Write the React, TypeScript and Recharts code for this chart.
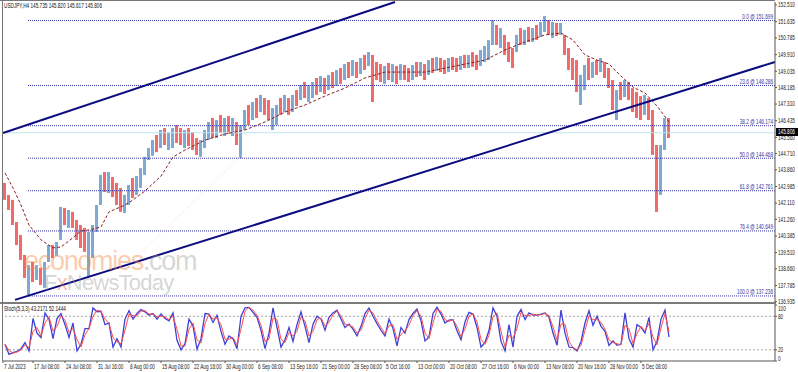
import React from 'react';
import { ComposedChart, Bar, Line, XAxis, YAxis, ReferenceLine, Cell } from 'recharts';

// USDJPY H4, one point per 4 bars (16h)
const highs = [143.17,142.54,142.28,141.12,140.44,139.39,138.86,139.02,138.86,138.71,
  139.02,139.91,139.91,140.07,141.91,141.86,141.75,141.65,141.23,140.96,
  140.81,140.60,140.96,142.01,143.59,143.74,143.74,143.48,143.17,142.91,
  142.54,143.06,143.43,143.53,143.95,144.54,145.00,145.42,145.69,145.95,
  146.05,145.84,146.05,146.21,146.05,145.95,146.05,145.84,145.53,145.42,
  145.95,146.37,146.58,146.47,146.74,146.58,146.68,146.58,146.37,146.21,
  147.00,147.26,147.42,147.63,147.79,147.63,147.52,147.10,147.26,147.63,
  147.79,147.63,147.79,148.05,148.31,148.47,148.31,148.47,148.68,148.78,
  148.68,148.84,148.99,149.10,149.20,149.41,149.52,149.62,149.52,149.73,
  149.89,150.04,149.89,149.52,149.41,149.31,149.47,149.41,149.31,149.41,
  149.36,149.20,149.36,149.52,149.52,149.41,149.62,149.73,149.78,149.73,
  149.62,149.73,149.78,149.73,149.83,149.89,149.89,150.04,149.89,150.15,
  150.36,150.67,151.72,151.46,151.30,150.94,150.57,150.25,150.94,151.30,
  151.20,151.36,151.30,151.46,151.62,151.93,151.72,151.62,151.57,151.57,
  150.94,150.25,149.73,149.62,148.84,149.36,149.73,149.52,149.62,149.73,
  149.52,149.20,148.57,148.05,148.47,148.57,148.47,148.15,147.94,147.73,
  147.79,147.63,147.00,145.16,145.16,146.58,146.58];

const lows = [142.28,141.75,140.96,139.91,139.13,138.18,137.24,137.97,138.08,137.81,
  137.66,139.02,139.23,139.34,140.18,140.96,140.81,140.81,140.18,139.76,
  139.55,138.24,139.23,140.60,142.01,142.70,142.64,142.43,142.01,141.65,
  141.59,142.01,142.38,142.54,142.91,143.59,144.37,144.59,144.79,145.00,
  145.16,144.90,145.00,145.27,145.16,145.00,145.11,144.90,144.64,144.54,
  145.00,145.42,145.53,145.53,145.79,145.63,145.74,145.63,145.16,144.48,
  145.95,146.21,146.47,146.58,146.89,146.74,146.47,145.95,146.21,146.74,
  146.89,146.74,146.89,147.21,147.52,147.63,147.42,147.63,147.79,147.94,
  147.84,148.05,148.15,148.26,148.36,148.57,148.68,148.78,148.68,148.89,
  149.10,149.31,147.42,148.57,148.47,148.36,148.57,148.47,148.36,148.57,
  148.57,148.47,148.57,148.73,148.78,148.57,148.84,148.94,149.05,148.99,
  148.89,148.99,149.10,148.99,149.10,149.20,149.20,149.26,149.10,149.31,
  149.52,149.62,150.41,150.41,150.25,149.89,149.52,149.20,150.04,150.41,
  150.41,150.57,150.57,150.67,150.83,151.09,150.94,150.78,150.88,150.94,
  149.89,149.10,148.57,147.94,147.26,148.05,148.57,148.68,148.84,148.99,
  148.68,148.15,147.00,146.47,147.52,147.68,147.52,146.89,146.58,146.47,
  146.74,146.47,144.64,141.65,142.54,144.90,145.53];

const closes = [142.4,141.9,141.2,140.0,139.3,138.4,138.5,138.3,138.6,138.0,
  138.9,139.7,139.4,140.0,141.5,141.2,141.5,141.0,140.4,140.1,
  139.8,140.2,140.8,141.8,143.3,143.0,143.4,142.7,142.3,141.9,
  142.3,142.8,142.7,143.3,143.8,144.4,144.8,145.3,145.1,145.8,
  145.4,145.7,145.9,145.6,145.5,145.8,145.3,145.0,144.9,145.3,
  145.8,146.2,145.9,146.3,146.1,146.5,146.0,146.2,145.5,146.0,
  146.9,146.5,147.2,147.0,147.5,147.0,146.6,146.8,147.1,146.9,
  147.6,147.2,147.7,147.6,148.2,147.8,148.1,148.4,148.0,148.6,
  148.2,148.7,148.4,149.0,148.7,149.3,149.0,149.4,149.0,149.6,
  149.3,149.8,149.3,149.0,148.8,149.2,148.8,149.2,148.7,149.2,
  148.9,148.8,149.2,149.0,149.3,148.8,149.4,149.2,149.6,149.3,
  149.1,149.6,149.4,149.2,149.7,149.5,149.8,149.5,149.3,149.9,
  150.2,150.5,151.2,150.7,150.9,150.2,149.9,149.5,150.8,150.6,
  151.0,150.8,151.2,151.0,151.4,151.6,151.2,151.5,151.1,151.4,
  150.1,149.4,148.9,148.1,148.8,149.2,149.0,149.4,149.1,149.5,
  148.9,148.5,147.3,147.9,147.8,148.3,147.9,147.2,147.0,146.9,
  147.4,146.8,145.0,142.0,144.6,146.2,145.806];
const firstOpen = 143.0;

// dashed moving average, read at a few points
const maIdx = [0,2,4,6,9,12,14,16,19,21,24,26,30,32,35,39,42,45,50,55,60,65,70,75,80,85,90,95,100,105,110,115,120,125,130,135,139,142,145,148,151,154,157,160,163,166];
const maVal = [143.69,142.91,142.01,140.96,140.18,139.76,139.81,140.13,140.65,140.70,140.86,141.65,142.01,142.28,142.75,143.53,144.53,144.90,145.42,145.74,145.95,146.37,146.89,147.26,147.73,148.15,148.68,148.99,148.99,148.99,149.20,149.41,149.62,150.15,150.57,150.94,151.04,150.67,149.89,149.62,149.41,148.78,148.20,147.89,147.21,146.37];

const stochK = [30,12,15,17,22,33,18,76,50,42,
  86,75,40,76,85,65,42,68,18,30,
  58,58,95,88,89,65,68,25,40,25,
  75,90,75,85,92,88,82,85,75,84,
  76,72,86,37,20,31,75,63,21,40,
  85,84,69,82,53,30,45,40,22,80,
  95,96,87,78,55,22,50,95,60,25,
  38,60,35,65,88,62,33,66,80,75,
  55,78,86,91,75,60,66,57,45,62,
  85,95,80,67,55,45,75,58,27,60,
  50,74,85,93,72,36,43,85,96,84,
  68,73,74,54,38,70,87,84,60,25,
  33,55,95,80,35,18,65,25,80,92,
  74,86,82,82,84,86,78,50,28,91,
  50,25,24,18,35,68,90,64,80,62,
  53,28,36,28,30,86,40,25,65,60,
  50,78,20,35,75,91,43];
const stochD = [30,19,14,16,20,29,24,53,60,45,
  68,79,54,62,81,73,51,58,38,25,
  47,58,80,91,89,75,67,42,34,31,
  55,84,81,81,89,90,84,84,79,80,
  79,74,80,57,27,27,57,68,38,32,
  67,84,75,77,65,39,39,42,29,57,
  89,96,91,82,64,35,39,77,74,39,
  33,51,45,53,79,72,45,53,74,77,
  63,69,83,89,81,66,64,61,50,55,
  76,91,86,72,60,49,63,65,39,47,
  54,64,81,90,80,50,40,68,92,89,
  74,71,74,62,44,57,80,85,70,39,
  30,46,79,86,53,25,46,41,58,87,
  81,81,84,82,83,85,81,61,37,66,
  66,35,24,20,28,55,81,74,74,69,
  57,38,33,31,29,64,58,31,49,62,
  54,67,43,29,59,85,52];

const priceTicks = [152.51,151.635,150.785,149.91,149.035,148.185,147.31,146.435,145.56,144.71,143.86,142.985,142.11,141.26,140.385,139.51,138.66,137.785,136.935];
const fibNames = ['0.0','23.6','38.2','50.0','61.8','76.4','100.0'];
const fibPrices = [151.699,148.286,146.174,144.468,142.761,140.649,137.236];
const dateTicks = [-0.5,7,15,23,31,39,47,55,63,71,79,87,95,103,111,119,127,135,143,151,159];
const dateLabels = ['7 Jul 2023','17 Jul 08:00','24 Jul 08:00','31 Jul 16:00','8 Aug 00:00','15 Aug 08:00','22 Aug 16:00','30 Aug 00:00','6 Sep 08:00','13 Sep 16:00','21 Sep 00:00','28 Sep 08:00','5 Oct 16:00','13 Oct 00:00','20 Oct 08:00','27 Oct 16:00','6 Nov 00:00','13 Nov 08:00','20 Nov 16:00','28 Nov 00:00','5 Dec 08:00'];
const stochTicks = [100,80,20,0];
const channelUpper = [{ x: -0.5, y: 145.79 }, { x: 97.5, y: 152.668 }];
const channelLower = [{ x: 2.5, y: 137.03 }, { x: 192.5, y: 149.52 }];
const lastPrice = 145.806;

const rows = highs.map((h, i) => {
  const m = maIdx.indexOf(i);
  return {
    i,
    range: [lows[i], h],
    up: closes[i] >= (i ? closes[i - 1] : firstOpen),
    ma: m >= 0 ? maVal[m] : null,
    k: stochK[i],
    d: stochD[i],
  };
});

const FONT = '"Liberation Sans", Arial, sans-serif';
const FS = 6.5;
const SQ = 0.72; // terminal font is narrow
const BLUE = '#7ea9d6';
const RED = '#f26a6a';
const FIB = '#3434a4';

const Small = ({ x, y, anchor = 'start', fill = '#222', children }: any) => (
  <text transform={`translate(${x},${y}) scale(${SQ},1)`} fontSize={FS} fill={fill} textAnchor={anchor} fontFamily={FONT}>
    {children}
  </text>
);

const FibLabel = ({ viewBox, text }: any) => {
  if (!viewBox) return null;
  return <Small x={viewBox.x + viewBox.width - 2} y={viewBox.y - 1.5} anchor="end" fill={FIB}>{text}</Small>;
};

const PriceTick = ({ x, y, payload }: any) => <Small x={x} y={y + 2.3}>{payload.value.toFixed(3)}</Small>;

const DateTick = ({ x, y, payload }: any) => (
  <Small x={x + 1} y={y + 5.5}>{dateLabels[dateTicks.indexOf(payload.value)]}</Small>
);

const StochTick = ({ x, y, payload }: any) => {
  const shift = payload.value === 100 ? 3.5 : payload.value === 0 ? -2 : 0;
  return <Small x={x} y={y + shift + 2.3}>{payload.value}</Small>;
};

const tinyText: React.CSSProperties = {
  position: 'absolute',
  fontSize: FS,
  color: '#111',
  whiteSpace: 'nowrap',
  transform: `scaleX(${SQ})`,
  transformOrigin: 'left top',
  lineHeight: 1,
};

export default function App() {
  return (
    <div style={{ position: 'absolute', left: 0, top: 0, width: 798, height: 372, background: '#fff', fontFamily: FONT, overflow: 'hidden' }}>
      <div style={{ position: 'absolute', left: 0, top: 0 }}>
        <ComposedChart width={798} height={306} data={rows} margin={{ top: 2, right: 0, left: 3, bottom: 4 }}>
          <XAxis type="number" dataKey="i" domain={[-0.5, 192.5]} hide />
          <YAxis
            orientation="right"
            width={23}
            domain={[136.92, 152.668]}
            ticks={priceTicks}
            interval={0}
            allowDataOverflow
            tickSize={2}
            tickMargin={1}
            tick={<PriceTick />}
            axisLine={{ stroke: '#555' }}
            tickLine={{ stroke: '#555' }}
          />
          <ReferenceLine y={lastPrice} stroke="#bfe5ef" strokeWidth={1} />
          {fibPrices.map((p, n) => (
            <ReferenceLine
              key={n}
              segment={[{ x: 5.75, y: p }, { x: 192.5, y: p }]}
              stroke={FIB}
              strokeDasharray="1 1"
              label={<FibLabel text={`${fibNames[n]} @ ${p.toFixed(3)}`} />}
            />
          ))}
          <ReferenceLine segment={[{ x: 30, y: 138.7 }, { x: 60, y: 144.8 }]} stroke="#f4d8cc" strokeDasharray="1 2" />
          <Bar dataKey="range" barSize={3} isAnimationActive={false}>
            {rows.map((r, n) => (
              <Cell key={n} fill={r.up ? BLUE : RED} />
            ))}
          </Bar>
          <Line dataKey="ma" connectNulls dot={false} stroke="#8b1c1c" strokeWidth={1} strokeDasharray="3 2" isAnimationActive={false} />
          <ReferenceLine segment={channelUpper} stroke="#0c0c80" strokeWidth={2} />
          <ReferenceLine segment={channelLower} stroke="#0c0c80" strokeWidth={2} />
        </ComposedChart>
      </div>

      {/* frame */}
      <div style={{ position: 'absolute', left: 0, top: 0, width: 775, height: 1, background: '#777' }} />
      <div style={{ position: 'absolute', left: 2, top: 0, width: 1, height: 361, background: '#777' }} />
      <div style={{ position: 'absolute', left: 0, top: 302, width: 776, height: 2, background: '#7a7a7a' }} />

      <div style={{ position: 'absolute', left: 0, top: 304 }}>
        <ComposedChart width={798} height={68} data={rows} margin={{ top: 0, right: 0, left: 3, bottom: 0 }}>
          <XAxis
            type="number"
            dataKey="i"
            domain={[-0.5, 192.5]}
            ticks={dateTicks}
            interval={0}
            height={11}
            tickSize={2}
            tickMargin={0}
            tick={<DateTick />}
            axisLine={{ stroke: '#555' }}
            tickLine={{ stroke: '#555' }}
          />
          <YAxis
            orientation="right"
            width={23}
            domain={[0, 102]}
            ticks={stochTicks}
            interval={0}
            tickSize={2}
            tickMargin={1}
            tick={<StochTick />}
            axisLine={{ stroke: '#555' }}
            tickLine={{ stroke: '#555' }}
          />
          <ReferenceLine y={80} stroke="#a8a8a8" strokeDasharray="2 2" />
          <ReferenceLine y={20} stroke="#a8a8a8" strokeDasharray="2 2" />
          <Line dataKey="k" dot={false} stroke="#4040d4" strokeWidth={1.3} isAnimationActive={false} />
          <Line dataKey="d" dot={false} stroke="#ff4d4d" strokeWidth={1} isAnimationActive={false} />
        </ComposedChart>
      </div>

      {/* titles */}
      <div style={{ ...tinyText, left: 4, top: 3 }}>USDJPY,H4 145.735 145.820 145.617 145.806</div>
      <div style={{ ...tinyText, left: 4, top: 306 }}>Stoch(5,3,3) 43.2171 52.1444</div>

      {/* last price tag */}
      <div style={{ position: 'absolute', left: 776, top: 128, width: 22, height: 8, background: '#000' }}>
        <div style={{ ...tinyText, color: '#fff', left: 2, top: 1 }}>145.806</div>
      </div>

      {/* watermark */}
      <div style={{ position: 'absolute', left: 24, top: 251, fontSize: 27, lineHeight: '21px', letterSpacing: -1.3, color: 'rgba(244,140,70,0.45)', whiteSpace: 'nowrap', pointerEvents: 'none' }}>
        economies<span style={{ color: 'rgba(150,150,150,0.4)' }}>.com</span>
      </div>
      <div style={{ position: 'absolute', left: 44, top: 274, fontSize: 22, lineHeight: '17px', letterSpacing: -0.8, color: 'rgba(150,150,150,0.4)', whiteSpace: 'nowrap', pointerEvents: 'none' }}>
        F<span style={{ color: 'rgba(230,110,80,0.45)' }}>x</span>NewsToday
      </div>
    </div>
  );
}
